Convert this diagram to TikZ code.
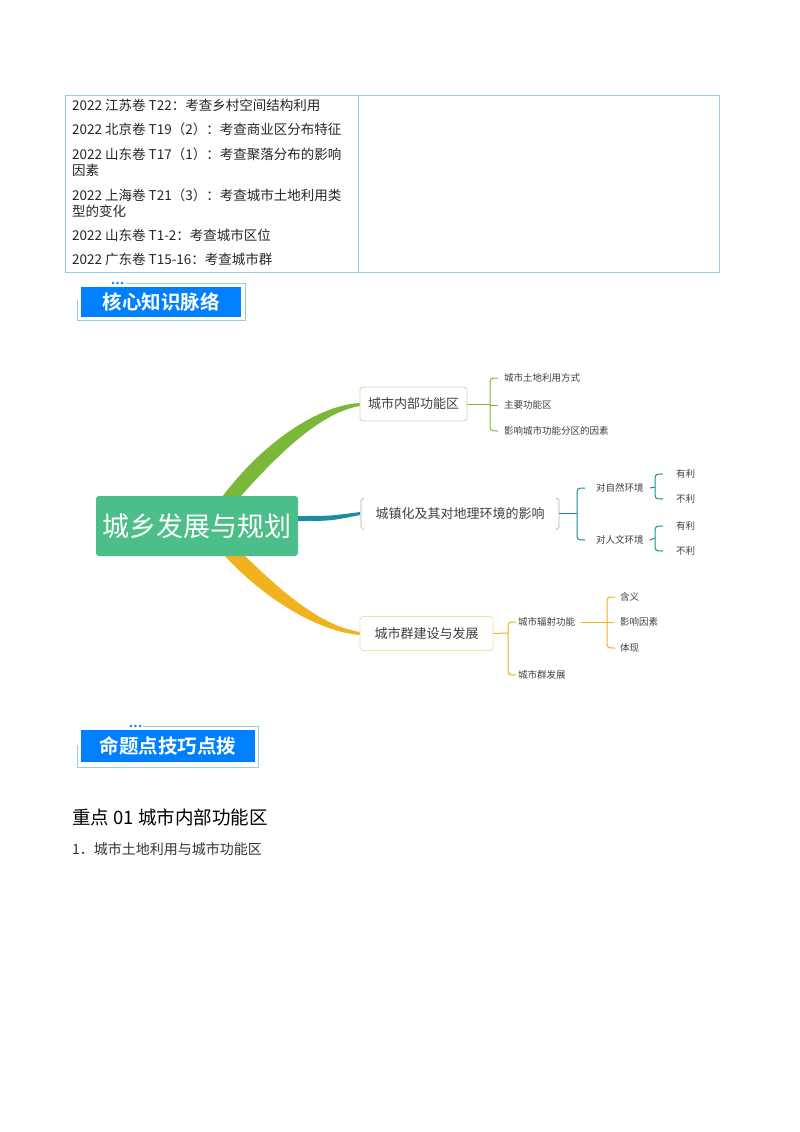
\documentclass[tikz,border=0pt]{standalone}
\usepackage{fontspec}
\setmainfont{Noto Sans CJK SC}
\newfontfamily\cjkb[BoldFont={* Bold}]{Noto Sans CJK SC}
\newcommand\brc[4]{\draw[#1,line width=1pt] (#2+8,#3) .. controls (#2,#3) .. (#2,#3+8) -- (#2,#4-8) .. controls (#2,#4) .. (#2+8,#4);}
\definecolor{lb}{RGB}{150,205,225}
\definecolor{gr}{RGB}{122,184,58}
\definecolor{te}{RGB}{30,140,160}
\definecolor{ye}{RGB}{240,178,30}
\definecolor{hb}{RGB}{0,128,255}
\definecolor{cg}{RGB}{76,190,138}
\definecolor{gb}{RGB}{200,225,175}
\definecolor{yb}{RGB}{245,225,160}
\begin{document}
\begin{tikzpicture}[x=1pt,y=-1pt,
  tb/.style={anchor=west,font=\fontsize{13.5}{15}\selectfont,inner sep=0pt,text=black!85},
  sm/.style={anchor=west,font=\fontsize{9.5}{11}\selectfont,inner sep=0pt,text=black!75},
  mid/.style={draw,rounded corners=3pt,line width=0.8pt,minimum height=34pt,font=\fontsize{13}{15}\selectfont,text=black!75,inner xsep=8pt},
  hdr/.style={fill=hb,text=white,font=\cjkb\bfseries\fontsize{19.5}{21}\selectfont,inner sep=0pt}]
\fill[white] (0,0) rectangle (800,1132);
\useasboundingbox (0,0) rectangle (800,1132);
% table
\draw[lb,line width=0.8pt] (65,95) rectangle (719,272);
\draw[lb,line width=0.8pt] (358,95) -- (358,272);
\node[tb] (r1) at (72,105) {2022 江苏卷 T22：考查乡村空间结构利用};
\node[tb] (r2) at (72,129) {2022 北京卷 T19（2）：考查商业区分布特征};
\node[tb] (r3) at (72,154) {2022 山东卷 T17（1）：考查聚落分布的影响};
\node[tb] (r3b) at (72,170) {因素};
\node[tb] (r4) at (72,195) {2022 上海卷 T21（3）：考查城市土地利用类};
\node[tb] (r4b) at (72,211) {型的变化};
\node[tb] (r5) at (72,235) {2022 山东卷 T1-2：考查城市区位};
\node[tb] (r6) at (72,259) {2022 广东卷 T15-16：考查城市群};
% header 1
\draw[lb,line width=0.8pt] (126,283) -- (245,283) -- (245,320) -- (77,320) -- (77,300);
\foreach \i in {0,1,2}{\fill[hb] (113+4.5*\i,283) circle (1.3);}
\node[hdr,minimum width=160pt,minimum height=30pt] (h1) at (161,302) {核心知识脉络};
% header 2
\draw[lb,line width=0.8pt] (143,726) -- (258,726) -- (258,767) -- (77,767) -- (77,745);
\foreach \i in {0,1,2}{\fill[hb] (131+4.5*\i,726) circle (1.3);}
\node[hdr,minimum width=174pt,minimum height=32pt] (h2) at (168,746) {命题点技巧点拨};
% mind map connectors
\fill[gr] (222,497) .. controls (265,440) and (320,405) .. (360,403) -- (360,406) .. controls (322,412) and (280,452) .. (240,497) -- cycle;
\fill[ye] (224,555) .. controls (265,600) and (320,632) .. (360,635) -- (360,632) .. controls (322,626) and (285,595) .. (244,555) -- cycle;
\fill[te] (298,516) .. controls (330,516) .. (360,512) -- (360,515) .. controls (330,521) .. (298,521) -- cycle;
% central
\node[fill=cg,rounded corners=3pt,minimum width=202pt,minimum height=60pt,text=white,font=\fontsize{27}{30}\selectfont] (c) at (197,526) {城乡发展与规划};
% branch nodes
\node[mid,draw=gb,minimum width=107pt] (b1) at (413.5,404) {城市内部功能区};
\node[mid,draw=none,minimum width=200pt] (b2) at (460,513.5) {城镇化及其对地理环境的影响};
\draw[black!30,line width=0.7pt] (364,498) -- (361,500) -- (361,527) -- (364,530);
\draw[black!30,line width=0.7pt] (556,498) -- (559,500) -- (559,527) -- (556,530);
\node[mid,draw=yb,minimum width=133pt] (b3) at (426.5,633.5) {城市群建设与发展};
% branch 1 subs
\draw[gr,line width=1pt] (b1.east) -- (490,404);
\brc{gr}{490}{378}{431}
\draw[gr,line width=1pt] (490,405) -- (498,405);
\node[sm] (s11) at (504,378) {城市土地利用方式};
\node[sm] (s12) at (504,405) {主要功能区};
\node[sm] (s13) at (504,431) {影响城市功能分区的因素};
% branch 2 subs
\draw[te,line width=1pt] (559,513) -- (577,513);
\brc{te}{577}{488}{540}
\node[sm] (s21) at (596,488) {对自然环境};
\node[sm] (s22) at (596,540) {对人文环境};
\draw[te,line width=1pt] ([xshift=6pt]s21.east) -- (655,487);
\brc{te}{655}{474}{499}
\draw[te,line width=1pt] ([xshift=6pt]s22.east) -- (655,538);
\brc{te}{655}{526}{551}
\node[sm] (t1) at (676,474) {有利};
\node[sm] (t2) at (676,499) {不利};
\node[sm] (t3) at (676,526) {有利};
\node[sm] (t4) at (676,551) {不利};
% branch 3 subs
\draw[ye,line width=1pt] (b3.east) -- (508,633);
\brc{ye}{508}{622}{675}
\node[sm] (s31) at (518,622) {城市辐射功能};
\node[sm] (s32) at (518,675) {城市群发展};
\draw[ye,line width=1pt] ([xshift=6pt]s31.east) -- (607,622);
\brc{ye}{607}{597}{648}
\draw[ye,line width=1pt] (607,622) -- (614,622);
\node[sm] (u1) at (620,597) {含义};
\node[sm] (u2) at (620,622) {影响因素};
\node[sm] (u3) at (620,648) {体现};
% headings
\node[anchor=west,inner sep=0pt,font=\fontsize{18.5}{21}\selectfont] (k) at (72,817) {重点 01 城市内部功能区};
\node[anchor=west,inner sep=0pt,font=\fontsize{14}{16}\selectfont,text=black!80] (k2) at (72,849) {1．城市土地利用与城市功能区};
\end{tikzpicture}
\end{document}
